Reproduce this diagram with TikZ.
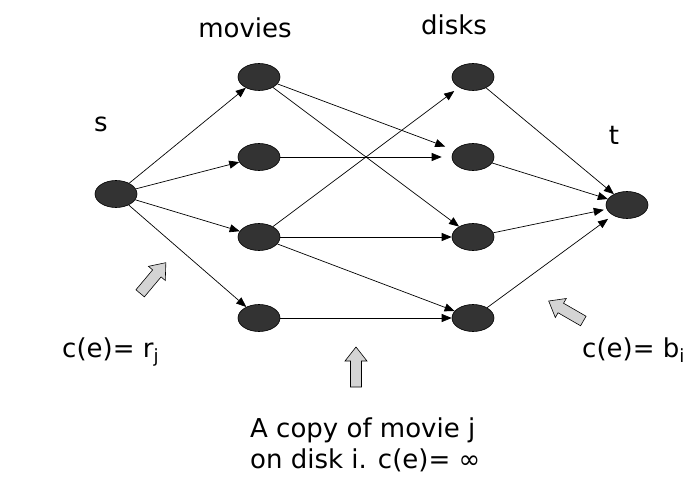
\documentclass[tikz,border=0pt]{standalone}
\usepackage{fontspec}
\setmainfont{DejaVu Sans}
\usetikzlibrary{shapes.geometric,arrows.meta}
\definecolor{nodegray}{HTML}{333333}
\definecolor{blockgray}{HTML}{D4D4D4}
\tikzset{
  vert/.style={ellipse,draw=black,fill=nodegray,minimum width=42pt,minimum height=27pt,inner sep=0pt,line width=0.6pt},
  edge/.style={-{Triangle[length=10pt,width=8pt]},line width=0.7pt},
  lab/.style={font=\fontsize{26pt}{31pt}\selectfont,inner sep=0pt},
  blockstyle/.style={draw=black,fill=blockgray,line width=0.6pt,line join=miter}
}
\newcommand\blockarrow[4]{%
  \draw[blockstyle,shift={(#1,#2)},rotate=#3] (-20,-5.5) -- (6,-5.5) -- (6,-11) -- (20,0) -- (6,11) -- (6,5.5) -- (-20,5.5) -- cycle coordinate (#4) at (0,0);}
\begin{document}
\begin{tikzpicture}[x=1pt,y=-1pt]
\useasboundingbox (0,0) rectangle (688,481);
\node[vert] (s) at (116,194) {};
\node[vert] (m1) at (259,77) {};
\node[vert] (m2) at (259,157) {};
\node[vert] (m3) at (259,237) {};
\node[vert] (m4) at (259,318) {};
\node[vert] (d1) at (473,77) {};
\node[vert] (d2) at (473,157) {};
\node[vert] (d3) at (473,237) {};
\node[vert] (d4) at (473,318) {};
\node[vert] (t) at (627,205) {};

\node[lab,anchor=base] (lmov) at (245,38) {movies};
\node[lab,anchor=base] (ldisk) at (454,35) {disks};
\node[lab,anchor=base] (ls) at (101,132) {s};
\node[lab,anchor=base] (lt) at (614,145) {t};

\draw[edge] (s) -- (m1);
\draw[edge] (s) -- (m2);
\draw[edge] (s) -- (m3);
\draw[edge] (s) -- (m4);

\draw[edge,shorten >=10pt] (m1) -- (d2);
\draw[edge] (m1) -- (d3);
\draw[edge,shorten >=10pt] (m2) -- (d2);
\draw[edge,shorten >=6pt] (m3) -- (d1);
\draw[edge] (m3) -- (d3);
\draw[edge] (m3) -- (d4);
\draw[edge] (m4) -- (d4);

\draw[edge] (d1) -- (t);
\draw[edge] (d2) -- (t);
\draw[edge,shorten >=3pt] (d3) -- (t);
\draw[edge,shorten >=6pt] (d4) -- (t);

\blockarrow{153}{278}{50}{a1}
\blockarrow{356}{367}{90}{a2}
\blockarrow{566}{311}{150}{a3}

\node[lab,anchor=base west] (c1) at (62,357) {c(e)= r\textsubscript{j}};
\node[lab,anchor=base west] (c2) at (582,357) {c(e)= b\textsubscript{i}};
\node[lab,anchor=base west] (c3) at (250,437) {A copy of movie j};
\node[lab,anchor=base west] (c4) at (250,468) {on disk i. c(e)= ∞};
\end{tikzpicture}
\end{document}
